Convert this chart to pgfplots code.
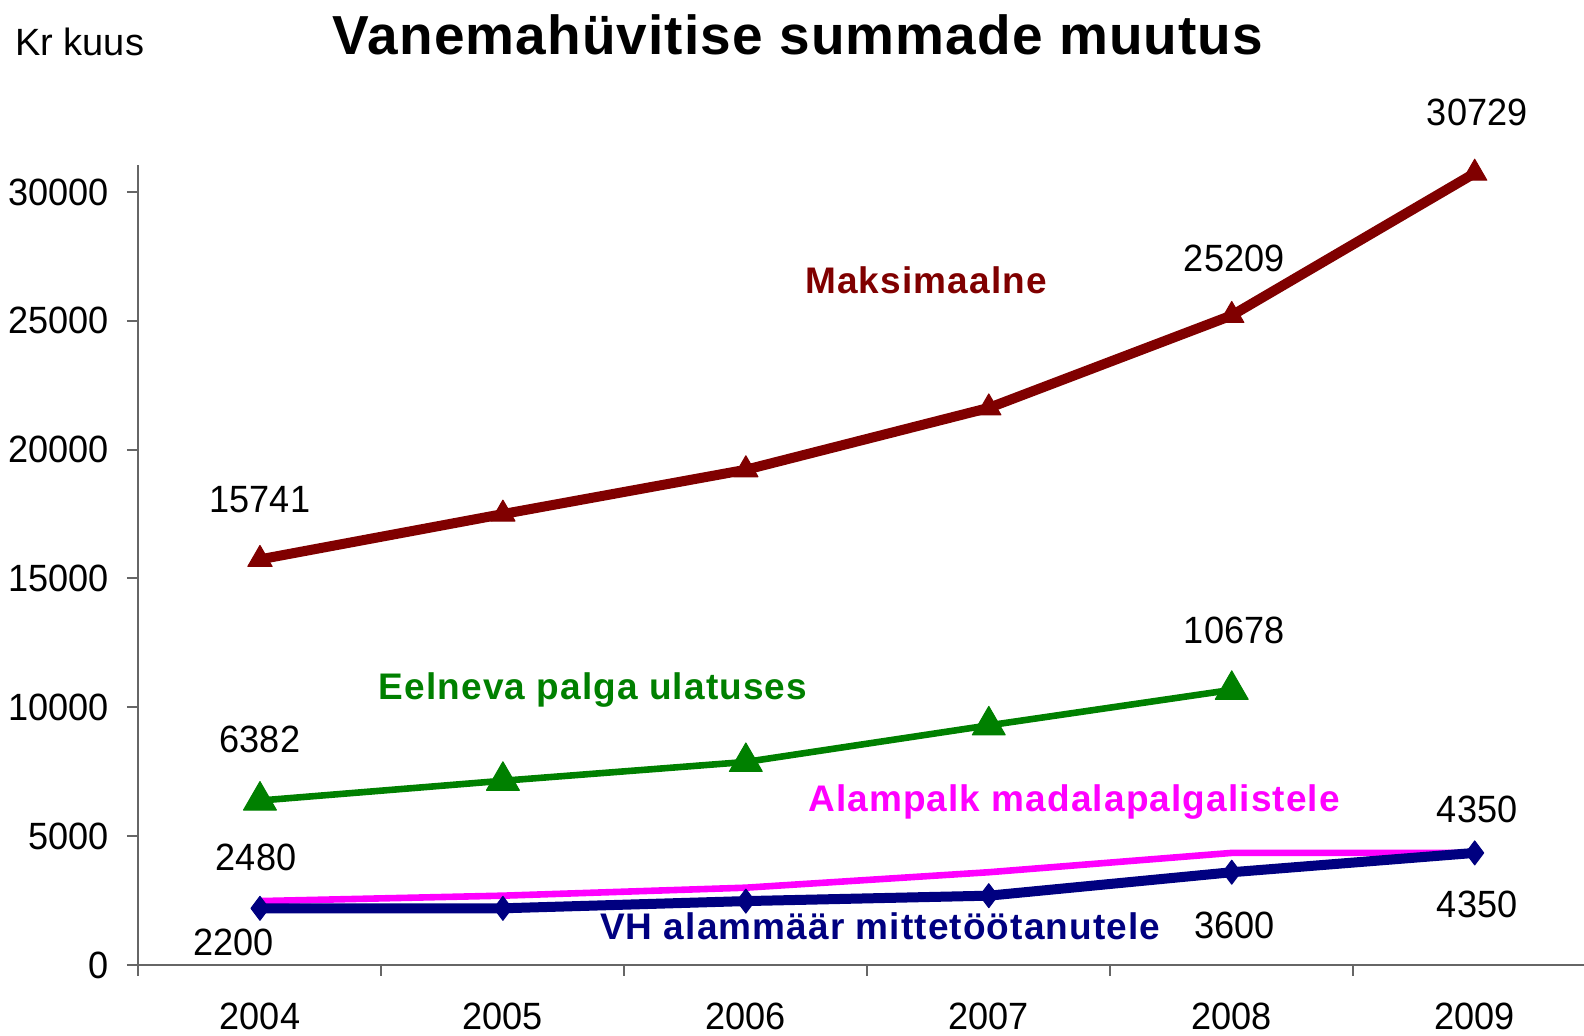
\documentclass[border=0pt]{standalone}
\usepackage{fontspec}
\usepackage{pgfplots}
\pgfplotsset{compat=1.18}
\setmainfont{Liberation Sans}
\newfontfamily\numfont{Liberation Sans}[FakeStretch=0.95]
\newfontfamily\lblfont{Liberation Sans}[LetterSpace=3]
\newfontfamily\titlefont{Liberation Sans}[LetterSpace=2]
\definecolor{cmax}{HTML}{800000}
\definecolor{cgreen}{HTML}{008000}
\definecolor{cmag}{HTML}{FF00FF}
\definecolor{cnavy}{HTML}{000080}
\newcommand{\numsize}{\numfont\fontsize{19}{21}\selectfont}
\newcommand{\lblsize}{\lblfont\bfseries\fontsize{18.5}{21}\selectfont}
\begin{document}
\begin{tikzpicture}
\begin{axis}[
  name=ax,
  scale only axis,
  width=723pt, height=400pt,
  xmin=-0.502, xmax=5.45,
  ymin=0, ymax=31048,
  clip=false,
  axis x line*=bottom, axis y line*=left,
  axis line style={black!60, line width=1pt, -},
  tick style={black!60, line width=1pt},
  tick align=outside,
  major tick length=5.5pt,
  xtick={-0.5,0.5,1.5,2.5,3.5,4.5},
  xticklabels={},
  extra x ticks={0,1,2,3,4,5},
  extra x tick labels={2004,2005,2006,2007,2008,2009},
  extra x tick style={major tick length=0pt, tick style={draw=none},
     xticklabel style={font=\numsize, anchor=north, yshift=-15.5pt}},
  ytick={0,5000,10000,15000,20000,25000,30000},
  scaled y ticks=false,
  yticklabel style={font=\numsize, anchor=east, xshift=-5.5pt},
  /pgf/number format/1000 sep={},
  /pgf/number format/assume math mode=true,
  line join=round,
]
\addplot[color=cmax, line width=5pt, mark=triangle*, mark size=7pt, mark options={line width=0.5pt}]
  coordinates {(0,15741)(1,17500)(2,19220)(3,21620)(4,25209)(5,30729)};
\addplot[color=cgreen, line width=3.3pt, mark=triangle*, mark size=9.5pt, mark options={line width=0.5pt}]
  coordinates {(0,6382)(1,7150)(2,7880)(3,9300)(4,10678)};
\addplot[color=cmag, line width=3.3pt, mark=none]
  coordinates {(0,2480)(1,2690)(2,3000)(3,3600)(4,4350)(5,4350)};
\addplot[color=cnavy, line width=5pt, mark=diamond*, mark size=6pt, mark options={line width=0.5pt}]
  coordinates {(0,2200)(1,2200)(2,2480)(3,2690)(4,3600)(5,4350)};

\node[font=\numsize] at (axis cs:0,18047) {15741};
\node[font=\numsize] at (axis cs:5.01,33105) {30729};
\node[font=\numsize] at (axis cs:4.01,27419) {25209};
\node[font=\numsize] at (axis cs:4.01,13001) {10678};
\node[font=\numsize] at (axis cs:0,8771) {6382};
\node[font=\numsize] at (axis cs:-0.016,4191) {2480};
\node[font=\numsize] at (axis cs:-0.11,893) {2200};
\node[font=\numsize] at (axis cs:4.01,1552) {3600};
\node[font=\numsize] at (axis cs:5.01,6054) {4350};
\node[font=\numsize] at (axis cs:5.01,2367) {4350};

\node[font=\lblsize, text=cmax, anchor=base] at (axis cs:2.742,26041) {Maksimaalne};
\node[font=\lblsize, text=cgreen, anchor=base] at (axis cs:1.371,10285) {Eelneva palga ulatuses};
\node[font=\lblsize, text=cmag, anchor=base] at (axis cs:3.351,5938) {Alampalk madalapalgalistele};
\node[font=\lblsize, text=cnavy, anchor=base] at (axis cs:2.553,970) {VH alammäär mittetöötanutele};

\node[font={\titlefont\bfseries\fontsize{27.5}{30}\selectfont}, anchor=base] at (axis cs:2.215,35317) {Vanemahüvitise summade muutus};
\node[font={\fontsize{19}{21}\selectfont}, anchor=base west, inner sep=0pt] at (axis cs:-1.009,35278) {Kr kuus};
\end{axis}
\pgfresetboundingbox
\path (ax.south west) ++(-69pt,-35.5pt) rectangle ++(792pt,518pt);
\end{tikzpicture}
\end{document}
